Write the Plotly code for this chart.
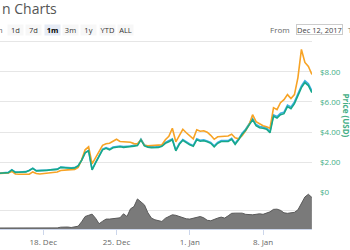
import plotly.graph_objects as go
import pandas as pd

# ---- data (8-hour samples) ----
dates = pd.date_range("2017-12-13 16:00", periods=91, freq="8h")

price_usd = [1.253, 1.267, 1.287, 1.307, 1.487, 1.32, 1.333, 1.333, 1.353, 1.453,
             1.587, 1.42, 1.42, 1.433, 1.453, 1.487, 1.5, 1.52, 1.653, 1.62,
             1.587, 1.6, 1.62, 1.753, 2.12, 2.62, 2.753, 1.487, 1.953, 2.42,
             2.82, 2.92, 2.82, 2.953, 3.0, 3.02, 2.987, 3.0, 3.02, 3.067,
             3.1, 3.487, 3.087, 3.0, 2.967, 2.953, 2.973, 3.053, 3.253, 3.353,
             3.487, 2.753, 3.187, 3.453, 3.287, 3.153, 3.053, 3.487, 3.387, 3.42,
             3.353, 3.253, 3.02, 3.253, 3.373, 3.353, 3.373, 3.52, 3.187, 3.487,
             3.853, 4.12, 4.453, 4.82, 4.42, 4.287, 4.253, 4.187, 3.953, 5.053,
             4.933, 5.153, 5.22, 5.687, 5.553, 5.887, 6.42, 6.953, 7.287, 7.087,
             6.62]

market_cap = [1.27, 1.28, 1.30, 1.32, 1.50, 1.34, 1.35, 1.35, 1.37, 1.47,
              1.60, 1.44, 1.44, 1.45, 1.47, 1.50, 1.52, 1.54, 1.67, 1.64,
              1.60, 1.62, 1.64, 1.77, 2.14, 2.64, 2.78, 1.51, 1.98, 2.45,
              2.86, 2.97, 2.87, 3.00, 3.05, 3.07, 3.04, 3.05, 3.07, 3.12,
              3.15, 3.53, 3.14, 3.05, 3.02, 3.01, 3.03, 3.11, 3.31, 3.41,
              3.54, 2.81, 3.25, 3.51, 3.35, 3.21, 3.11, 3.55, 3.45, 3.48,
              3.41, 3.31, 3.08, 3.31, 3.43, 3.41, 3.43, 3.58, 3.25, 3.55,
              3.92, 4.19, 4.53, 4.90, 4.50, 4.37, 4.34, 4.27, 4.04, 5.14,
              5.03, 5.25, 5.32, 5.79, 5.66, 6.00, 6.54, 7.07, 7.41, 7.21,
              6.74]

price_btc = [1.253, 1.253, 1.267, 1.287, 1.387, 1.22, 1.2, 1.2, 1.2, 1.2,
             1.353, 1.253, 1.22, 1.253, 1.267, 1.287, 1.32, 1.353, 1.453, 1.487,
             1.487, 1.5, 1.52, 1.653, 2.153, 2.82, 3.02, 1.887, 2.287, 2.753,
             3.12, 3.22, 3.253, 3.387, 3.52, 3.373, 3.353, 3.353, 3.32, 3.233,
             3.22, 3.487, 3.12, 3.087, 3.087, 3.12, 3.133, 3.153, 3.487, 3.72,
             4.253, 3.353, 3.82, 4.187, 3.953, 3.72, 3.553, 4.153, 4.053, 4.087,
             3.987, 3.787, 3.52, 3.687, 3.707, 3.72, 3.74, 3.853, 3.62, 3.553,
             3.753, 4.087, 4.487, 5.153, 4.687, 4.553, 4.42, 4.353, 4.253, 5.62,
             5.487, 5.953, 6.153, 6.487, 6.22, 6.487, 7.62, 9.487, 8.62, 8.353,
             7.82]

volume = [2.7, 2.7, 2.7, 2.4, 2.2, 2.7, 2.4, 2.2, 1.9, 2.2,
          1.6, 1.6, 1.6, 1.6, 1.9, 2.2, 2.7, 3.0, 4.9, 5.4,
          5.4, 4.1, 4.9, 7.6, 19.7, 34, 37.3, 40.5, 29.2, 14.3,
          21.1, 27, 27, 27.8, 30.5, 30.5, 41.4, 34, 54.9, 61.1,
          81.9, 73.8, 65.7, 44.1, 29.7, 25.1, 22.4, 20.5, 29.2, 34,
          38.7, 37.3, 34, 31.9, 27.8, 27, 28.7, 31.9, 34, 30.5,
          23.8, 22.4, 26.5, 29.7, 32.4, 29.7, 35.9, 42.7, 43.2, 42.7,
          43.2, 40, 38.7, 38.7, 40, 41.4, 40, 43.2, 46.8, 53.5,
          54.1, 50.8, 44.1, 42.7, 43.2, 45.4, 52.2, 70.3, 87.3, 94.6,
          86]

price_ticks = [0, 2, 4, 6, 8, 10]
price_tick_labels = ["$0", "$2.00", "$4.00", "$6.00", "$8.00", ""]
x_ticks = ["2017-12-18", "2017-12-25", "2018-01-01", "2018-01-08"]
x_tick_labels = ["18. Dec", "25. Dec", "1. Jan", "8. Jan"]
range_buttons = ["1d", "7d", "1m", "3m", "1y", "YTD", "ALL"]

# ---- layout geometry ----
W, H = 350, 250
ML, MR, MT, MB = 0, 38, 38, 21
PW, PH = W - ML - MR, H - MT - MB
def px(x):
    return (x - ML) / PW
def py(y):
    return (H - MB - y) / PH

split = py(192.3)
price_top = (192.3 - MT) / 15.06

fig = go.Figure()
fig.add_trace(go.Scatter(x=dates, y=volume, yaxis="y2", mode="lines",
                         line=dict(color="#5a5a5a", width=1),
                         fill="tozeroy", fillcolor="#7a7a7a", hoverinfo="skip"))
fig.add_trace(go.Scatter(x=dates, y=market_cap, mode="lines",
                         line=dict(color="#3fb1e5", width=1.6)))
fig.add_trace(go.Scatter(x=dates, y=price_btc, mode="lines",
                         line=dict(color="#f7a325", width=1.6)))
fig.add_trace(go.Scatter(x=dates, y=price_usd, mode="lines",
                         line=dict(color="#17a88a", width=1.6)))

x0 = pd.Timestamp("2017-12-18") - pd.Timedelta(days=43.3 / 10.476)
x1 = pd.Timestamp("2018-01-08") + pd.Timedelta(days=(312.3 - 263.3) / 10.476)

fig.update_layout(
    width=W, height=H, margin=dict(l=ML, r=MR, t=MT, b=MB, pad=0),
    paper_bgcolor="white", plot_bgcolor="white", showlegend=False,
    font=dict(family="Open Sans, DejaVu Sans, sans-serif"),
    xaxis=dict(range=[x0, x1], tickvals=x_ticks, ticktext=x_tick_labels,
               showgrid=False, zeroline=False, showline=True, linecolor="#ccd6eb",
               ticks="outside", ticklen=5, tickcolor="#ccd6eb",
               tickfont=dict(size=8, color="#666666"), anchor="y2"),
    yaxis=dict(domain=[split, 1], range=[0, price_top], side="right",
               tickvals=price_ticks, ticktext=price_tick_labels,
               showgrid=True, gridcolor="#e6e6e6", gridwidth=1, zeroline=False,
               ticks="", ticklabelstandoff=7,
               tickfont=dict(size=8, color="#44ae86")),
    yaxis2=dict(domain=[0, split], range=[0, 100], side="right", dtick=50,
                showgrid=True, gridcolor="#e6e6e6", zeroline=False,
                showticklabels=False, ticks=""),
)

ann = []
ann.append(dict(text="n Charts", x=px(0), y=py(9), xanchor="left", yanchor="middle",
                font=dict(size=14, color="#555555")))
ann.append(dict(text="Zoom", x=px(5), y=py(29.5), xanchor="right", yanchor="middle",
                font=dict(size=8, color="#666666")))
btn_x = [15, 33.5, 52, 70, 88.5, 107, 125]
for lbl, bx in zip(range_buttons, btn_x):
    sel = lbl == "1m"
    ann.append(dict(text=("<b>%s</b>" % lbl) if sel else lbl, x=px(bx), y=py(29.5),
                    xanchor="center", yanchor="middle", width=15, height=10,
                    bgcolor="#e6ebf5" if sel else "#f7f7f7", borderpad=0,
                    font=dict(size=7.5, color="#000000" if sel else "#333333")))
ann.append(dict(text="From", x=px(292), y=py(29.5), xanchor="right", yanchor="middle",
                font=dict(size=8, color="#666666")))
ann.append(dict(text="Dec 12, 2017", x=px(319), y=py(29.5), xanchor="center",
                yanchor="middle", width=45, height=9, bordercolor="#cccccc",
                borderwidth=1, borderpad=0, bgcolor="white",
                font=dict(size=7.5, color="#444444")))
ann.append(dict(text="To", x=px(346), y=py(29.5), xanchor="left", yanchor="middle",
                font=dict(size=8, color="#666666")))
ann.append(dict(text="<b>Price (USD)</b>", x=px(346.5), y=py(115), textangle=90,
                xanchor="center", yanchor="middle",
                font=dict(size=8, color="#44ae86")))
for a in ann:
    a.update(xref="paper", yref="paper", showarrow=False)
fig.update_layout(annotations=ann)

fig.write_html("out.html")
